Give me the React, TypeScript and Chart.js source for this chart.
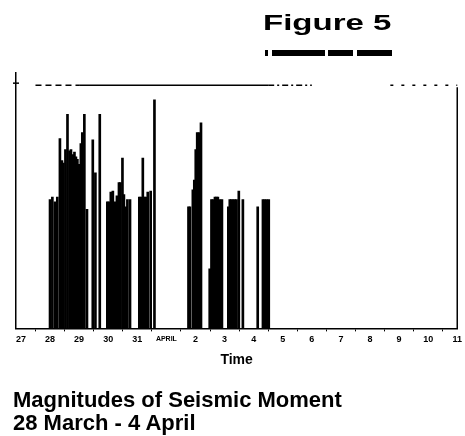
import React, { useEffect, useRef } from "react";
import { Chart, registerables } from "chart.js";

Chart.register(...registerables);

// Event times in continuous days (27-31 = March, 32 = 1 April, ... 42 = 11 April)
const eventDays = [
  28.0, 28.08, 28.17, 28.25, 28.34, 28.41, 28.46, 28.53, 28.6, 28.67, 28.72, 28.79, 28.84, 28.89, 28.94, 28.99,
  29.06, 29.11, 29.18, 29.27, 29.47, 29.56, 29.71,
  29.97, 30.02, 30.09, 30.16, 30.23, 30.3, 30.37, 30.42, 30.49, 30.54, 30.61, 30.66, 30.75,
  31.07, 31.12, 31.19, 31.24, 31.29, 31.36, 31.46, 31.59,
  32.76, 32.81, 32.91, 32.96, 33.01, 33.06, 33.12, 33.19,
  33.49, 33.55, 33.6, 33.67, 33.72, 33.77, 33.84, 33.91,
  34.13, 34.18, 34.23, 34.29, 34.35, 34.41, 34.49, 34.63,
  35.14, 35.32, 35.38, 35.45, 35.52,
];
// Magnitude of seismic moment for each event (arbitrary units, axis max 10)
const eventMagnitudes = [
  5.3, 5.4, 5.2, 5.4, 7.8, 6.9, 6.8, 7.35, 8.8, 7.3, 7.35, 7.15, 7.25, 7.05, 6.95, 6.75,
  7.6, 8.05, 8.8, 4.9, 7.75, 6.4, 8.8,
  5.2, 5.2, 5.6, 5.65, 5.2, 5.45, 6.0, 6.0, 7.0, 5.5, 5.0, 5.3, 5.3,
  5.4, 5.4, 7.0, 5.4, 5.4, 5.6, 5.65, 9.4,
  5.0, 5.0, 5.7, 6.1, 7.35, 8.05, 8.05, 8.45,
  2.45, 5.3, 5.3, 5.4, 5.4, 5.4, 5.3, 5.3,
  5.0, 5.3, 5.3, 5.3, 5.3, 5.3, 5.65, 5.3,
  5.0, 5.3, 5.3, 5.3, 5.3,
];

const tickDays = [27, 28, 29, 30, 31, 32, 33, 34, 35, 36, 37, 38, 39, 40, 41, 42];
const tickLabels = ["27", "28", "29", "30", "31", "APRIL", "2", "3", "4", "5", "6", "7", "8", "9", "10", "11"];

const X_MIN = 26.83;
const X_MAX = 42;
const Y_MAX = 10.5;
const TOP_RULE_VALUE = 10;

const FONT = "'Liberation Sans', Arial, Helvetica, sans-serif";

const framePlugin = {
  id: "frame",
  afterDatasetsDraw(chart: any) {
    const { ctx, chartArea, scales } = chart;
    const x = scales.x;
    const y = scales.y;
    const yTop = y.getPixelForValue(TOP_RULE_VALUE);
    ctx.save();
    ctx.strokeStyle = "#000";
    ctx.lineWidth = 1.5;
    // top rule
    ctx.setLineDash([6, 4]);
    ctx.beginPath();
    ctx.moveTo(x.getPixelForValue(27.5), yTop);
    ctx.lineTo(x.getPixelForValue(29.0), yTop);
    ctx.stroke();
    ctx.setLineDash([]);
    ctx.beginPath();
    ctx.moveTo(x.getPixelForValue(29.0), yTop);
    ctx.lineTo(x.getPixelForValue(35.5), yTop);
    ctx.stroke();
    ctx.setLineDash([6, 3, 2, 3]);
    ctx.beginPath();
    ctx.moveTo(x.getPixelForValue(35.5), yTop);
    ctx.lineTo(x.getPixelForValue(37.0), yTop);
    ctx.stroke();
    ctx.setLineDash([3, 8]);
    ctx.beginPath();
    ctx.moveTo(x.getPixelForValue(39.7), yTop);
    ctx.lineTo(chartArea.right, yTop);
    ctx.stroke();
    ctx.setLineDash([]);
    // right axis
    ctx.beginPath();
    ctx.moveTo(chartArea.right, yTop + 2);
    ctx.lineTo(chartArea.right, chartArea.bottom);
    ctx.stroke();
    // left tick
    ctx.beginPath();
    ctx.moveTo(chartArea.left - 3, yTop - 2);
    ctx.lineTo(chartArea.left + 3, yTop - 2);
    ctx.stroke();
    ctx.restore();
  },
};

function SeismicChart() {
  const ref = useRef<HTMLCanvasElement | null>(null);
  useEffect(() => {
    if (!ref.current) return;
    const data = eventDays.map((d, i) => ({ x: d, y: eventMagnitudes[i] }));
    const chart = new Chart(ref.current, {
      type: "bar",
      data: {
        datasets: [
          {
            data: data as any,
            backgroundColor: "#000",
            borderWidth: 0,
            barThickness: 2,
            grouped: false,
          } as any,
        ],
      },
      options: {
        responsive: false,
        animation: false,
        layout: { padding: { left: 16, right: 4, top: 73, bottom: 67 } },
        plugins: {
          legend: { display: false },
          tooltip: { enabled: false },
        },
        scales: {
          x: {
            type: "linear",
            min: X_MIN,
            max: X_MAX,
            offset: false,
            afterBuildTicks: (axis: any) => {
              axis.ticks = tickDays.map((v) => ({ value: v }));
            },
            ticks: {
              color: "#000",
              padding: 3,
              maxRotation: 0,
              autoSkip: false,
              font: (ctx: any) => ({
                family: FONT,
                weight: "bold",
                size: ctx.tick && ctx.tick.value === 32 ? 7 : 9,
              }),
              callback: (value: any) => {
                const i = tickDays.indexOf(Number(value));
                return i >= 0 ? tickLabels[i] : "";
              },
            },
            grid: {
              display: true,
              drawOnChartArea: false,
              drawTicks: true,
              tickLength: 3,
              color: "#000",
              lineWidth: 1,
            },
            border: { display: true, color: "#000", width: 1.5 },
            title: {
              display: true,
              text: "Time",
              color: "#000",
              font: { family: FONT, weight: "bold", size: 14 },
              padding: { top: 4, bottom: 0 },
            },
          },
          y: {
            min: 0,
            max: Y_MAX,
            ticks: { display: false },
            grid: { display: false, drawTicks: false },
            border: { display: true, color: "#000", width: 1.5 },
          },
        },
      },
      plugins: [framePlugin],
    });
    return () => chart.destroy();
  }, []);
  return (
    <canvas
      ref={ref}
      width={465}
      height={436}
      style={{ position: "absolute", left: 0, top: 0, width: 465, height: 436 }}
    />
  );
}

export default function App() {
  const textBase: React.CSSProperties = {
    position: "absolute",
    fontFamily: FONT,
    fontWeight: "bold",
    color: "#000",
    whiteSpace: "nowrap",
    lineHeight: "22px",
    fontSize: 22,
    margin: 0,
  };
  const bar = (left: number, width: number): React.CSSProperties => ({
    position: "absolute",
    left,
    top: 50,
    width,
    height: 6,
    background: "#000",
  });
  return (
    <div style={{ position: "fixed", left: 0, top: 0, width: 465, height: 436, background: "#fff" }}>
      <SeismicChart />
      <div style={{ ...textBase, left: 263, top: 12, transform: "scaleX(1.5)", transformOrigin: "left top" }}>
        Figure 5
      </div>
      <div style={bar(265, 3)} />
      <div style={bar(272, 53)} />
      <div style={bar(328, 25)} />
      <div style={bar(357, 35)} />
      <div style={{ ...textBase, left: 13, top: 389 }}>Magnitudes of Seismic Moment</div>
      <div style={{ ...textBase, left: 13, top: 412 }}>28 March - 4 April</div>
    </div>
  );
}
